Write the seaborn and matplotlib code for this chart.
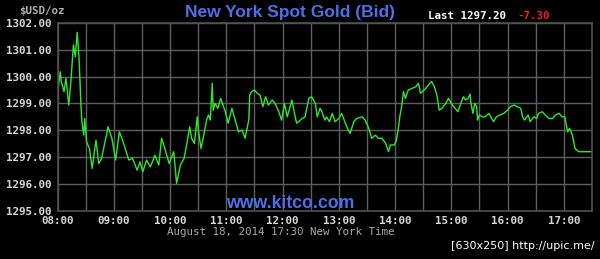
import numpy as np
import pandas as pd
import matplotlib
matplotlib.use("Agg")
import matplotlib.pyplot as plt
import seaborn as sns

# minutes after 08:00 (New York time)
minutes = [0, 3, 4, 7, 9, 12, 14, 17, 19, 21, 23, 25, 26, 28, 29, 31, 34, 37, 41, 44,
           47, 54, 58, 62, 66, 70, 76, 80, 85, 88, 91, 95, 99, 104, 108, 111, 115, 119, 124, 127,
           131, 135, 138, 141, 143, 146, 149, 150, 153, 156, 159, 161, 163, 165, 166, 168, 171, 174, 179, 182,
           186, 189, 193, 197, 200, 204, 205, 207, 210, 213, 216, 219, 222, 225, 229, 232, 236, 239, 242, 245,
           250, 252, 255, 261, 264, 268, 271, 275, 277, 280, 282, 285, 287, 290, 293, 296, 300, 303, 307, 310,
           312, 316, 319, 325, 328, 332, 335, 339, 342, 346, 350, 353, 355, 359, 361, 363, 365, 367, 369, 371,
           374, 378, 382, 385, 387, 391, 394, 397, 399, 402, 405, 407, 410, 414, 417, 421, 424, 427, 430, 433,
           435, 438, 440, 441, 443, 445, 447, 448, 450, 453, 456, 460, 465, 468, 472, 476, 480, 483, 487, 490,
           494, 496, 498, 502, 504, 508, 511, 513, 517, 520, 524, 528, 531, 535, 538, 541, 544, 546, 549, 552,
           556, 562, 570]
prices = [1299.38, 1300.18, 1299.81, 1299.44, 1299.94, 1298.94, 1299.69, 1301.18, 1300.74, 1301.65,
          1300.68, 1298.94, 1298.32, 1297.82, 1298.44, 1297.57, 1297.32, 1296.58, 1297.63, 1296.76,
          1296.95, 1298.13, 1297.70, 1296.89, 1297.94, 1297.57, 1296.89, 1296.95, 1296.51, 1296.82,
          1296.45, 1296.89, 1296.64, 1297.07, 1296.70, 1297.70, 1297.26, 1296.76, 1297.20, 1296.02,
          1296.70, 1296.95, 1297.51, 1298.13, 1297.70, 1297.51, 1298.50, 1298.07, 1297.32, 1297.82,
          1298.38, 1298.57, 1298.38, 1299.75, 1298.75, 1299.00, 1298.82, 1299.19, 1298.69, 1298.26,
          1298.82, 1298.44, 1297.94, 1298.01, 1297.70, 1298.38, 1299.31, 1299.44, 1299.50, 1299.38,
          1299.31, 1298.88, 1299.25, 1298.94, 1299.13, 1299.00, 1298.69, 1298.38, 1299.00, 1298.50,
          1299.13, 1298.75, 1298.26, 1298.44, 1298.50, 1299.19, 1299.25, 1299.00, 1298.50, 1298.82,
          1298.69, 1298.38, 1298.50, 1298.32, 1298.63, 1298.32, 1298.44, 1298.63, 1298.26, 1298.01,
          1297.88, 1298.32, 1298.44, 1298.50, 1298.38, 1298.07, 1297.70, 1297.82, 1297.70, 1297.70,
          1297.51, 1297.20, 1297.45, 1297.45, 1297.57, 1297.94, 1298.50, 1298.88, 1299.44, 1299.19,
          1299.50, 1299.56, 1299.62, 1299.75, 1299.38, 1299.50, 1299.62, 1299.75, 1299.81, 1299.62,
          1299.25, 1298.75, 1298.82, 1299.00, 1299.19, 1298.94, 1298.82, 1298.69, 1299.00, 1299.25,
          1299.13, 1299.19, 1299.35, 1299.00, 1298.63, 1299.00, 1298.88, 1298.38, 1298.57, 1298.50,
          1298.50, 1298.63, 1298.32, 1298.50, 1298.57, 1298.63, 1298.75, 1298.88, 1298.94, 1298.88,
          1298.82, 1298.50, 1298.38, 1298.57, 1298.32, 1298.50, 1298.44, 1298.63, 1298.69, 1298.57,
          1298.44, 1298.44, 1298.57, 1298.63, 1298.50, 1298.50, 1297.94, 1298.07, 1297.82, 1297.32,
          1297.20, 1297.20, 1297.20]

x_tick_labels = ["08:00", "09:00", "10:00", "11:00", "12:00", "13:00", "14:00",
                 "15:00", "16:00", "17:00"]
y_ticks = [1295.0, 1296.0, 1297.0, 1298.0, 1299.0, 1300.0, 1301.0, 1302.0]

title = "New York Spot Gold (Bid)"
last_price = "Last 1297.20"
change = "-7.30"
footer = "August 18, 2014 17:30 New York Time"

df = pd.DataFrame({"minutes": minutes, "price": prices})

sns.set_theme(style="dark")
plt.rcParams["font.family"] = ["DejaVu Sans Mono", "DejaVu Sans"]

fig = plt.figure(figsize=(6.0, 2.59), dpi=100, facecolor="black")
ax = fig.add_axes([57.5 / 600, (259 - 210.7) / 259, (592.0 - 57.5) / 600, (210.7 - 23) / 259])
ax.set_facecolor("black")

sns.lineplot(data=df, x="minutes", y="price", ax=ax, color="#2ee82e", linewidth=1.0)

ax.set_xlim(0, 570)
ax.set_ylim(1295, 1302)
ax.set_xticks(np.arange(0, 570, 60))
ax.set_xticklabels(x_tick_labels)
ax.set_xticks(np.arange(30, 570, 60), minor=True)
ax.set_yticks(y_ticks)
ax.set_yticklabels([f"{v:.2f}" for v in y_ticks])

ax.grid(True, which="both", color="#5e5e5e", linewidth=1.0)
ax.tick_params(which="both", length=0)
ax.tick_params(axis="both", colors="#d8d8d8", labelsize=7.8, pad=4)
for lab in ax.get_xticklabels() + ax.get_yticklabels():
    lab.set_fontweight("bold")
for s in ax.spines.values():
    s.set_color("#505050")
    s.set_linewidth(1.2)
ax.set_xlabel("")
ax.set_ylabel("")

fig.text(41.5 / 600, 1 - 11 / 259, "$USD/oz", color="#b0b0b0", fontsize=7.8,
         ha="center", va="center", fontweight="bold")
fig.text(290 / 600, 1 - 12 / 259, title, color="#4f6fe8", fontsize=12.5,
         ha="center", va="center", fontweight="bold", family=["Liberation Sans", "DejaVu Sans"])
fig.text(428 / 600, 1 - 16 / 259, last_price, color="white", fontsize=7.8,
         ha="left", va="center", fontweight="bold")
fig.text(517 / 600, 1 - 16 / 259, change, color="#ee2020", fontsize=7.8,
         ha="left", va="center", fontweight="bold")
fig.text(290 / 600, 1 - 203 / 259, "www.kitco.com", color="#4f6fe8", fontsize=12.7,
         ha="center", va="center", fontweight="bold", family=["Liberation Sans", "DejaVu Sans"])
fig.text(281 / 600, 1 - 232 / 259, footer, color="#a8a8a8", fontsize=7.8,
         ha="center", va="center")
fig.text(595 / 600, 1 - 246 / 259, "[630x250] http://upic.me/", color="white", fontsize=8.0,
         ha="right", va="center", family=["DejaVu Sans"])

fig.savefig("out.png", dpi=100, facecolor="black")
